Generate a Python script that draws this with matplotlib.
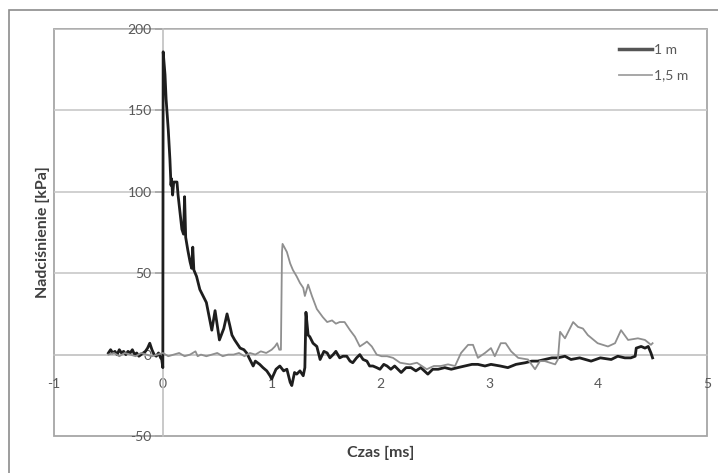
import numpy as np
import matplotlib
matplotlib.use('Agg')
import matplotlib.pyplot as plt
from matplotlib.patches import Rectangle

plt.rcParams['font.family'] = ['Lato', 'DejaVu Sans']

# seria 1 m (czas [ms], nadcisnienie [kPa])
t_1m = [-0.50, -0.48, -0.46, -0.44, -0.42, -0.40, -0.38, -0.36, -0.34, -0.32,
        -0.30, -0.28, -0.26, -0.24, -0.22, -0.20, -0.18, -0.16, -0.14, -0.12,
        -0.10, -0.08, -0.06, -0.04, -0.02, -0.01, 0.0, 0.003,
        0.02, 0.03, 0.05, 0.065, 0.075, 0.08, 0.09, 0.10, 0.13, 0.14,
        0.155, 0.175, 0.19, 0.20, 0.21, 0.23, 0.25, 0.265, 0.275, 0.285,
        0.31, 0.34, 0.37, 0.40, 0.43, 0.45, 0.48, 0.50, 0.52, 0.56,
        0.59, 0.615, 0.635, 0.66, 0.68, 0.71, 0.745, 0.77, 0.80, 0.83,
        0.85, 0.89, 0.92, 0.955, 0.985, 1.00, 1.04, 1.075, 1.11, 1.14,
        1.17, 1.185, 1.21, 1.23, 1.26, 1.29, 1.305, 1.315, 1.335, 1.35,
        1.38, 1.415, 1.445, 1.48, 1.51, 1.535, 1.565, 1.59, 1.625, 1.655,
        1.69, 1.72, 1.745, 1.78, 1.81, 1.84, 1.875, 1.90, 1.93, 1.965,
        1.995, 2.03, 2.06, 2.095, 2.13, 2.19, 2.235, 2.28, 2.325, 2.37,
        2.435, 2.48, 2.53, 2.59, 2.65, 2.71, 2.775, 2.84, 2.895, 2.96,
        3.015, 3.10, 3.17, 3.245, 3.33, 3.39, 3.445, 3.51, 3.575, 3.63,
        3.695, 3.75, 3.83, 3.935, 4.02, 4.12, 4.18, 4.245, 4.30, 4.34,
        4.35, 4.395, 4.43, 4.46, 4.485, 4.50]
p_1m = [1, 3, 1, 2, 0, 3, 1, 2, 0, 2,
        1, 3, 0, 1, -1, 0, 1, 2, 4, 7,
        3, 0, -1, 1, -2, -3, -8, 186,
        172, 157, 138, 120, 104, 108, 98, 106, 106, 98,
        89, 77, 74, 97, 72, 64, 57, 53, 66, 52,
        48, 40, 36, 32, 22, 15, 27, 18, 9, 16,
        25, 18, 12, 9, 7, 4, 3, 1, -3, -7,
        -4, -6, -8, -10, -13, -15, -9, -7, -10, -9,
        -17, -19, -11, -12, -10, -13, -8, 26, 12, 11,
        7, 5, -3, 2, 1, -2, 0, 2, -2, -1,
        -1, -4, -5, -2, 0, -3, -4, -7, -7, -8,
        -9, -6, -7, -9, -7, -11, -8, -8, -10, -8,
        -12, -9, -9, -8, -9, -8, -7, -6, -6, -7,
        -6, -7, -8, -6, -5, -4, -4, -3, -2, -2,
        -1, -3, -2, -4, -2, -3, -1, -2, -2, -1,
        4, 5, 4, 5, 1, -2]

# seria 1,5 m
t_15m = [-0.50, -0.45, -0.40, -0.35, -0.30, -0.25, -0.20, -0.15, -0.10, -0.05,
         0.0, 0.05, 0.10, 0.15, 0.20, 0.25, 0.30, 0.32, 0.35, 0.40,
         0.45, 0.50, 0.55, 0.60, 0.65, 0.70, 0.75, 0.80, 0.85, 0.90,
         0.95, 1.00, 1.03, 1.05, 1.07, 1.085, 1.095, 1.10, 1.14, 1.17,
         1.195, 1.23, 1.26, 1.29, 1.305, 1.335, 1.37, 1.415, 1.47, 1.51,
         1.555, 1.59, 1.625, 1.67, 1.72, 1.765, 1.81, 1.855, 1.875, 1.92,
         1.965, 2.01, 2.06, 2.115, 2.18, 2.27, 2.335, 2.425, 2.49, 2.555,
         2.62, 2.685, 2.74, 2.805, 2.85, 2.895, 2.96, 3.015, 3.05, 3.105,
         3.15, 3.20, 3.265, 3.355, 3.42, 3.465, 3.51, 3.605, 3.63, 3.65,
         3.695, 3.77, 3.815, 3.86, 3.905, 3.995, 4.09, 4.155, 4.21, 4.275,
         4.365, 4.43, 4.485, 4.50]
p_15m = [0, 1, -1, 1, 0, -1, 1, 0, -1, 0,
         1, -1, 0, 1, -1, 0, 2, -1, 0, -1,
         0, 1, -1, 0, 0, 1, -1, 1, 0, 2,
         1, 3, 5, 7, 3, 3, 63, 68, 63, 56,
         52, 48, 44, 41, 36, 43, 36, 28, 23, 20,
         21, 19, 20, 20, 15, 11, 5, 7, 8, 5,
         0, -1, -1, -2, -5, -6, -5, -9, -7, -7,
         -6, -7, 1, 6, 6, -2, 1, 4, -1, 7,
         7, 2, -2, -3, -9, -4, -4, -6, -3, 14,
         10, 20, 17, 16, 12, 7, 5, 7, 15, 9,
         10, 9, 6, 7]

x_ticks = [-1, 0, 1, 2, 3, 4, 5]
y_ticks = [-50, 0, 50, 100, 150, 200]

fig = plt.figure(figsize=(7.18, 4.73), dpi=100)
# ramka wykresu (ucieta z prawej i od dolu)
fig.patches.append(Rectangle((9/718, -0.1), 1.2, 1 - 10/473 + 0.1,
                             transform=fig.transFigure, fill=False,
                             edgecolor='#8c8c8c', lw=1.2))
ax = fig.add_axes([54/718, 37/473, 653/718, 407/473])

ax.plot(t_1m, p_1m, color='#1e1e1e', lw=2.0, label='1 m', zorder=3)
ax.plot(t_15m, p_15m, color='#8f8f8f', lw=1.3, label='1,5 m', zorder=4)

ax.set_xlim(-1, 5)
ax.set_ylim(-50, 200)
ax.set_xticks(x_ticks)
ax.set_yticks(y_ticks)
ax.set_xticklabels([str(v) for v in x_ticks])
ax.set_yticklabels([str(v) for v in y_ticks])

for s in ['top', 'right']:
    ax.spines[s].set_visible(False)
ax.spines['left'].set_position(('data', 0))
ax.spines['bottom'].set_position(('data', 0))
ax.spines['left'].set_color('#c0c0c0')
ax.spines['bottom'].set_color('#c0c0c0')
ax.spines['left'].set_linewidth(1.2)
ax.spines['bottom'].set_linewidth(1.2)
ax.add_patch(Rectangle((0, 0), 1, 1, transform=ax.transAxes, fill=False,
                       edgecolor='#a6a6a6', lw=1.3, zorder=1, clip_on=False))

for v in [50, 100, 150, 200]:
    ax.axhline(v, color='#c8c8c8', lw=1.2, zorder=1)

ax.tick_params(axis='y', direction='out', length=6, width=1.2, color='#a6a6a6',
               labelsize=10, labelcolor='#595959', pad=2)
ax.tick_params(axis='x', length=0, labelsize=10, labelcolor='#595959', pad=17)

ax.set_xlabel('Czas [ms]', fontsize=11.5, fontweight='bold', color='#404040')
ax.set_ylabel('Nadciśnienie [kPa]', fontsize=11.5, fontweight='bold', color='#404040')
ax.xaxis.set_label_coords(0.5, -0.025)
ax.yaxis.set_label_coords(-0.006, 0.5)

leg = ax.legend(loc='upper right', frameon=False, fontsize=10,
                handlelength=2.4, handletextpad=0.1, labelspacing=1.0,
                bbox_to_anchor=(0.99, 0.995), labelcolor='#595959')
leg.get_lines()[0].set_color('#555555')
leg.get_lines()[0].set_linewidth(2.5)
leg.get_lines()[1].set_color('#a0a0a0')

fig.savefig('out.png', dpi=100)
